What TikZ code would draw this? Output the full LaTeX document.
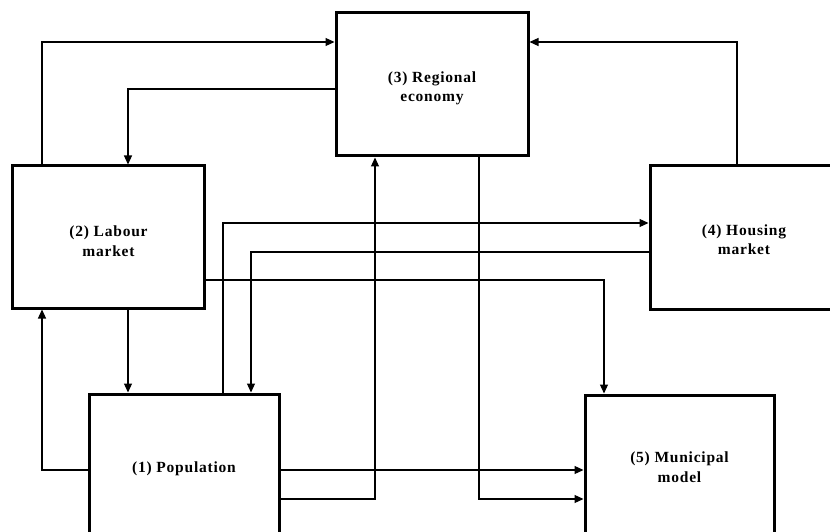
\documentclass[tikz,border=0pt]{standalone}
\usepackage{fontspec}
\setmainfont{Liberation Serif}
\newfontfamily\labfont[LetterSpace=5]{Liberation Serif}
\usetikzlibrary{arrows.meta}
\tikzset{
  box/.style={draw, line width=3bp, rectangle, inner sep=0pt},
  txt/.style={align=center, inner sep=0pt,
    font=\labfont\bfseries\fontsize{15.5bp}{19.5bp}\selectfont},
  conn/.style={line width=1.2bp},
  arr/.style={conn, -{Triangle[length=9bp,width=8bp]}}
}
\begin{document}
\begin{tikzpicture}[x=1bp,y=-1bp]
\useasboundingbox (0,0) rectangle (830,532);
\clip (0,0) rectangle (830,532);
\node[box, minimum width=192bp, minimum height=143bp] (b3) at (432,84.5) {};
\node[box, minimum width=191bp, minimum height=142bp] (b2) at (108.5,237) {};
\node[box, minimum width=188bp, minimum height=143bp] (b4) at (744,237.5) {};
\node[box, minimum width=190bp, minimum height=146bp] (b1) at (184,467) {};
\node[box, minimum width=189bp, minimum height=144bp] (b5) at (679.5,467) {};
\node[txt] (t3) at ([yshift=-4bp]b3.center) {(3) Regional\\economy};
\node[txt] (t2) at ([yshift=-4bp]b2.center) {(2) Labour\\market};
\node[txt] (t4) at ([yshift=-2bp]b4.center) {(4) Housing\\market};
\node[txt] (t1) at ([yshift=-2bp]b1.center) {(1) Population};
\node[txt] (t5) at (b5.center) {(5) Municipal\\model};
\coordinate (c1) at (42,42);
\coordinate (c2) at (128,89);
\coordinate (c3) at (737,42);
\coordinate (c5) at (42,470);
\coordinate (c6) at (223,223);
\coordinate (c7) at (251,252);
\coordinate (c8) at (604,280);
\coordinate (c10) at (375,499);
\coordinate (c11) at (479,499);
% connectors
\draw[arr] (b2.north -| c1) -- (c1) -- (b3.west |- c1);
\draw[arr] (b3.west |- c2) -- (c2) -- (b2.north -| c2);
\draw[arr] (b4.north -| c3) -- (c3) -- (b3.east |- c3);
\draw[arr] (b2.south -| c2) -- (b1.north -| c2);
\draw[arr] (b1.west |- c5) -- (c5) -- (b2.south -| c5);
\draw[arr] (b1.north -| c6) -- (c6) -- (b4.west |- c6);
\draw[arr] (b4.west |- c7) -- (c7) -- (b1.north -| c7);
\draw[arr] (b2.east |- c8) -- (c8) -- (b5.north -| c8);
\draw[arr] (b1.east |- c5) -- (b5.west |- c5);
\draw[arr] (b1.east |- c10) -- (c10) -- (b3.south -| c10);
\draw[arr] (b3.south -| c11) -- (c11) -- (b5.west |- c11);
\end{tikzpicture}
\end{document}
